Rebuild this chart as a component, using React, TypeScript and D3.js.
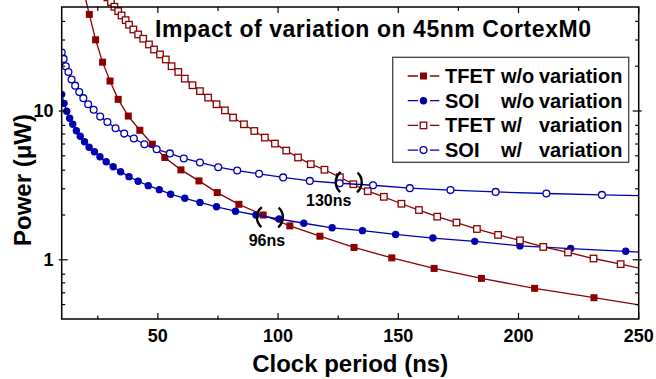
import React from "react";
import * as d3 from "d3";

const width = 656;
const height = 379;
const plotLeft = 61.7;
const plotRight = 638.7;
const plotTop = 7;
const plotBottom = 319;

// TFET without variation (filled squares)
const tfetPeriod = [19, 21.5, 24.1, 27.0, 30.1, 33.5, 37.7, 42.5, 47.7, 52.9, 59.6, 67.1, 74.7, 83.7, 93.8, 104.9, 117.4, 131.6, 147.3, 164.9, 184.6, 206.7, 231.4, 259];
const tfetPower = [65, 44.6, 30.1, 21.3, 15.9, 11.98, 9.25, 7.42, 5.98, 4.87, 4.02, 3.39, 2.83, 2.36, 2.0, 1.69, 1.44, 1.21, 1.03, 0.875, 0.75, 0.643, 0.556, 0.473];

// SOI without variation (filled circles)
const soiPeriod = [10, 11, 12.1, 13.3, 14.6, 16.1, 17.7, 19.5, 21.4, 23.6, 25.9, 28.5, 31.4, 34.5, 38, 41.8, 46, 50.6, 55.3, 61.2, 67.5, 74.4, 82.3, 90.8, 100.4, 110.7, 122.5, 135.1, 148.9, 164.4, 181.8, 200.6, 221.7, 244.6, 269];
const soiPower = [12.94, 11.26, 9.96, 8.93, 8.14, 7.36, 6.77, 6.21, 5.71, 5.32, 4.93, 4.56, 4.22, 3.91, 3.62, 3.37, 3.15, 2.96, 2.76, 2.59, 2.43, 2.27, 2.12, 2.0, 1.88, 1.76, 1.64, 1.57, 1.48, 1.4, 1.33, 1.24, 1.19, 1.14, 1.08];

// TFET with variation (open squares)
const tfetVarPeriod = [29, 30.5, 31.9, 33.5, 34.9, 36.6, 38.0, 39.8, 41.8, 43.9, 46.3, 48.4, 50.9, 53.3, 55.7, 58.5, 61.2, 64.4, 67.5, 70.9, 74.4, 77.9, 81.3, 85.8, 90.1, 94.5, 98.7, 103.4, 108.3, 113.6, 119.3, 125.7, 131.3, 137.3, 144.0, 151.3, 158.6, 166.2, 174.2, 182.7, 191.5, 200.6, 210.3, 220.6, 231.2, 242.5, 254];
const tfetVarPower = [58, 54, 50.2, 46.9, 43.9, 40.8, 38.0, 35.3, 32.7, 30.6, 28.0, 25.9, 24.0, 22.2, 20.0, 18.3, 16.5, 14.9, 13.6, 12.3, 11.1, 10.1, 9.03, 8.14, 7.34, 6.63, 6.04, 5.42, 4.87, 4.39, 4.03, 3.59, 3.22, 2.89, 2.65, 2.38, 2.16, 1.95, 1.78, 1.61, 1.47, 1.35, 1.22, 1.12, 1.02, 0.935, 0.853];

// SOI with variation (open circles)
const soiVarPeriod = [10, 10.8, 11.7, 12.8, 14.1, 15.6, 17.3, 19.0, 21.0, 23.3, 26.0, 29.0, 32.4, 36.0, 40.0, 44.4, 49.5, 55.0, 60.8, 67.5, 75.1, 83.0, 92.1, 102.1, 113.2, 125.6, 139.5, 154.8, 171.7, 190.5, 211.6, 234.7, 260];
const soiVarPower = [24.7, 22.4, 20.0, 18.3, 16.3, 14.8, 13.4, 12.2, 11.1, 10.2, 9.17, 8.44, 7.66, 7.05, 6.53, 5.98, 5.53, 5.19, 4.8, 4.51, 4.19, 3.98, 3.78, 3.58, 3.39, 3.27, 3.17, 3.03, 2.94, 2.86, 2.79, 2.73, 2.68];

const legendDevice = ["TFET", "SOI", "TFET", "SOI"];
const legendCondition = ["w/o", "w/o", "w/", "w/"];

const xTicks = [50, 100, 150, 200, 250];
const xMinorTicks = [25, 75, 125, 175, 225];
const yTicks = [1, 10];
const yMinorTicks = [0.5, 0.6, 0.7, 0.8, 2, 3, 4, 5, 6, 7, 8, 20, 30, 40];

const crossPeriod = [96.6, 129.4];
const crossPower = [1.93, 3.32];
const crossLabel = ["96ns", "130ns"];

const red = "#8B0000";
const blue = "#0000B0";
const font = "'Liberation Sans', Arial, sans-serif";

const series = [
  { period: tfetPeriod, power: tfetPower, color: red, shape: "square", filled: true },
  { period: soiPeriod, power: soiPower, color: blue, shape: "circle", filled: true },
  { period: tfetVarPeriod, power: tfetVarPower, color: red, shape: "square", filled: false },
  { period: soiVarPeriod, power: soiVarPower, color: blue, shape: "circle", filled: false },
];

const Marker = ({ cx, cy, color, shape, filled }) => {
  if (shape === "square") {
    const s = filled ? 7 : 6.5;
    return (
      <rect
        x={cx - s / 2}
        y={cy - s / 2}
        width={s}
        height={s}
        fill={filled ? color : "#fff"}
        stroke={color}
        strokeWidth={filled ? 0 : 1.3}
      />
    );
  }
  return (
    <circle
      cx={cx}
      cy={cy}
      r={filled ? 3.7 : 3.4}
      fill={filled ? color : "#fff"}
      stroke={color}
      strokeWidth={filled ? 0 : 1.3}
    />
  );
};

const App = () => {
  const x = d3.scaleLinear([10, 250], [plotLeft, plotRight]);
  const y = d3.scaleLog([0.4, 50], [plotBottom, plotTop]);

  const line = d3
    .line<number>()
    .x((d) => d[0])
    .y((d) => d[1]);

  const legendX = 392.7;
  const legendY = 57.3;
  const rowH = 24.7;

  return (
    <svg
      width={width}
      height={height}
      style={{ position: "absolute", left: 0, top: 0, display: "block", background: "#fff" }}
      fontFamily={font}
      fontWeight="bold"
    >
      <defs>
        <clipPath id="plotClip">
          <rect x={plotLeft} y={-20} width={plotRight - plotLeft} height={plotBottom + 20} />
        </clipPath>
      </defs>

      {/* series */}
      <g clipPath="url(#plotClip)">
        {series.map((s, i) => {
          const pts = s.period.map((p, j) => [x(p), y(s.power[j])]);
          return (
            <g key={i}>
              <path d={line(pts as any) || ""} fill="none" stroke={s.color} strokeWidth={1.3} />
              {pts.map((p, j) => (
                <Marker key={j} cx={p[0]} cy={p[1]} color={s.color} shape={s.shape} filled={s.filled} />
              ))}
            </g>
          );
        })}
      </g>

      {/* frame */}
      <rect
        x={plotLeft}
        y={plotTop}
        width={plotRight - plotLeft}
        height={plotBottom - plotTop}
        fill="none"
        stroke="#000"
        strokeWidth={1.5}
      />

      {/* x ticks */}
      {xTicks.map((t) => (
        <g key={"xt" + t}>
          <line x1={x(t)} x2={x(t)} y1={plotBottom} y2={plotBottom - 6} stroke="#000" strokeWidth={1.2} />
          <line x1={x(t)} x2={x(t)} y1={plotTop} y2={plotTop + 6} stroke="#000" strokeWidth={1.2} />
          <text x={x(t)} y={342} textAnchor="middle" fontSize={18}>
            {t}
          </text>
        </g>
      ))}
      {xMinorTicks.map((t) => (
        <g key={"xm" + t}>
          <line x1={x(t)} x2={x(t)} y1={plotBottom} y2={plotBottom - 3.5} stroke="#000" strokeWidth={1.2} />
          <line x1={x(t)} x2={x(t)} y1={plotTop} y2={plotTop + 4} stroke="#000" strokeWidth={1.2} />
        </g>
      ))}

      {/* y ticks */}
      {yTicks.map((t) => (
        <g key={"yt" + t}>
          <line x1={plotLeft - 3} x2={plotLeft + 6} y1={y(t)} y2={y(t)} stroke="#000" strokeWidth={1.2} />
          <line x1={plotRight + 3} x2={plotRight - 6} y1={y(t)} y2={y(t)} stroke="#000" strokeWidth={1.2} />
          <text x={53.5} y={y(t)} dy="0.36em" textAnchor="end" fontSize={18}>
            {t}
          </text>
        </g>
      ))}
      {yMinorTicks.map((t) => (
        <g key={"ym" + t}>
          <line x1={plotLeft} x2={plotLeft + 3.5} y1={y(t)} y2={y(t)} stroke="#000" strokeWidth={1.2} />
          <line x1={plotRight} x2={plotRight - 3.5} y1={y(t)} y2={y(t)} stroke="#000" strokeWidth={1.2} />
        </g>
      ))}

      {/* axis titles */}
      <text x={(plotLeft + plotRight) / 2} y={372} textAnchor="middle" fontSize={24}>
        Clock period (ns)
      </text>
      <text transform="translate(31,180) rotate(-90)" textAnchor="middle" fontSize={24}>
        Power (μW)
      </text>

      {/* title */}
      <text x={155} y={36.5} fontSize={23} textLength={436} lengthAdjust="spacing">
        Impact of variation on 45nm CortexM0
      </text>

      {/* crossing annotations */}
      {crossPeriod.map((p, i) => {
        const cx = x(p);
        const cy = y(crossPower[i]);
        const r = 13;
        const c = 2 * Math.PI * r;
        const arc = (c * 100) / 360;
        const gap = (c * 80) / 360;
        return (
          <g key={"c" + i}>
            <circle
              cx={cx}
              cy={cy}
              r={r}
              fill="none"
              stroke="#000"
              strokeWidth={2.4}
              strokeDasharray={`${arc} ${gap}`}
              strokeDashoffset={(c * 50) / 360}
            />
            <text
              x={cx + (i === 0 ? -3 : -20)}
              y={cy + (i === 0 ? 29 : 24)}
              textAnchor="middle"
              fontSize={16}
            >
              {crossLabel[i]}
            </text>
          </g>
        );
      })}

      {/* legend */}
      <rect x={legendX} y={legendY} width={236} height={105} fill="#fff" stroke="#444" strokeWidth={1.3} />
      {series.map((s, i) => {
        const cy = legendY + 18.7 + i * rowH;
        return (
          <g key={"lg" + i}>
            <line x1={407.7} x2={439.3} y1={cy} y2={cy} stroke={s.color} strokeWidth={1.3} />
            <line x1={418} x2={430} y1={cy} y2={cy} stroke="#fff" strokeWidth={3} />
            <Marker cx={423.5} cy={cy} color={s.color} shape={s.shape} filled={s.filled} />
            <text y={cy + 7} fontSize={20}>
              <tspan x={445}>{legendDevice[i]}</tspan>
              <tspan x={501}>{legendCondition[i]}</tspan>
              <tspan x={539}>variation</tspan>
            </text>
          </g>
        );
      })}
    </svg>
  );
};

export default App;
